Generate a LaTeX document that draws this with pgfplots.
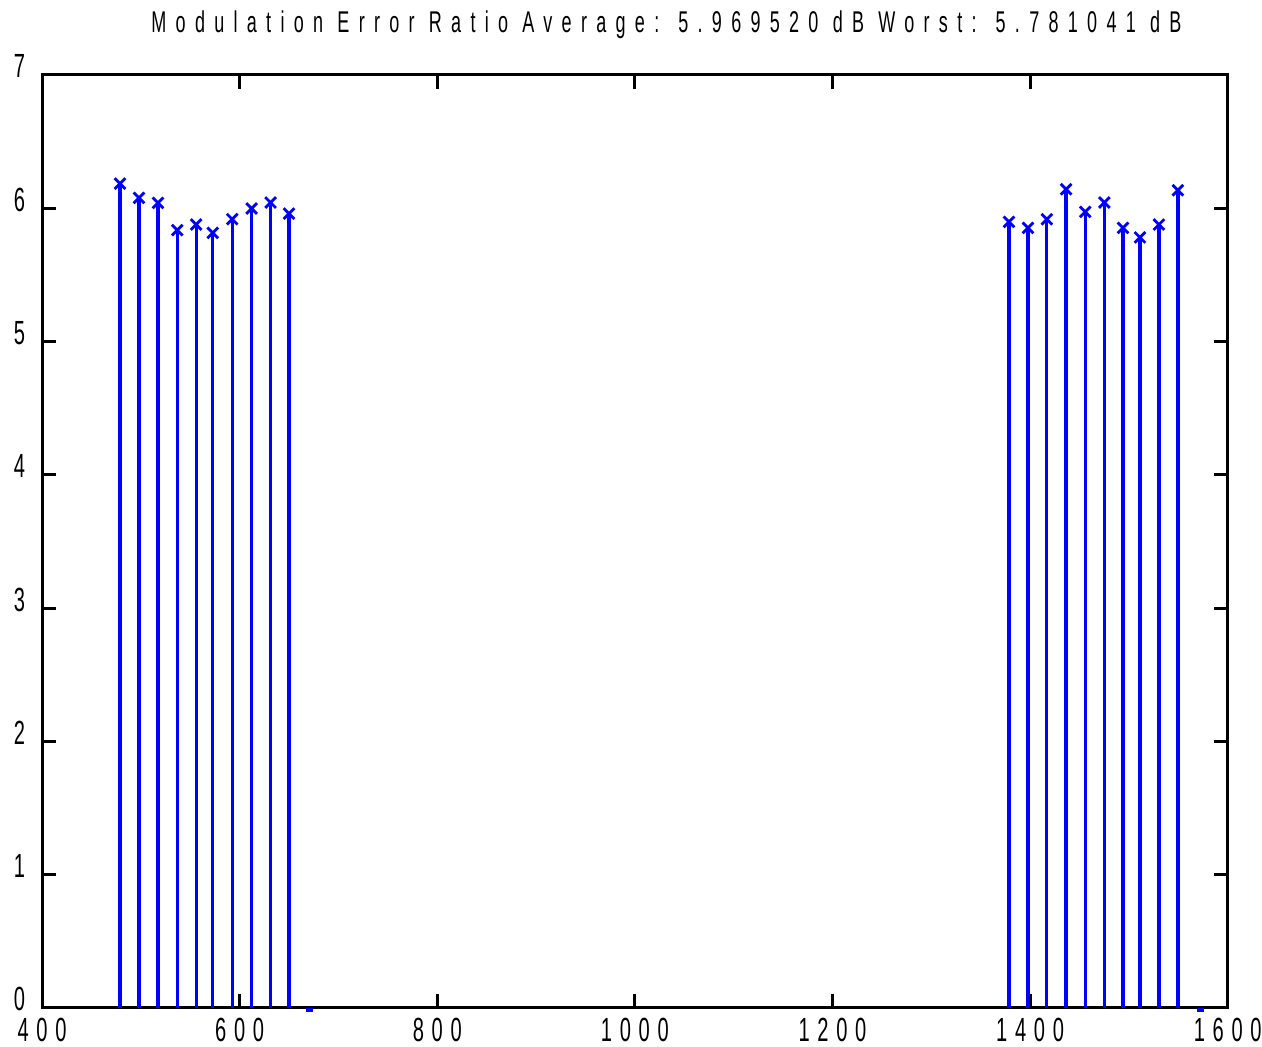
\documentclass[border=0pt]{standalone}
\usepackage{fontspec}
\usepackage{pgfplots}
\pgfplotsset{compat=1.18}
\newfontfamily\tickfont[FakeStretch=0.6, LetterSpace=23]{Liberation Sans}
\newfontfamily\titlefont[FakeStretch=0.6, LetterSpace=31]{Liberation Sans}
\definecolor{mblue}{RGB}{0,0,255}
\begin{document}
\begin{tikzpicture}
\begin{axis}[
  scale only axis,
  width=592.85pt, height=466.5pt,
  xmin=400, xmax=1600, ymin=0, ymax=7,
  xtick={400,600,...,1600}, ytick={0,1,...,7},
  tick align=inside,
  major tick length=7pt,
  axis line style={line width=1.5pt},
  every tick/.style={black, line width=1.5pt},
  /pgf/number format/assume math mode=true,
  /pgf/number format/1000 sep={},
  ticklabel style={font=\tickfont\fontsize{16.75}{17}\selectfont},
  xticklabel style={yshift=-1.5pt},
  yticklabel style={anchor=base east, yshift=-1.5pt, xshift=-5pt},
  title={Modulation Error Ratio Average: 5.969520 dB Worst: 5.781041 dB},
  title style={font=\titlefont\fontsize{15}{16}\selectfont, at={(0.5,1)}, anchor=base, yshift=15pt, xshift=15.8pt},
  clip=false,
]
\addplot[ycomb, mblue, line width=1.6pt, mark=x, mark size=3.8pt, mark options={line width=1.4pt}] coordinates {
(479.0,6.185) (498.2,6.078) (517.4,6.040) (536.8,5.836) (556.0,5.878)
(572.8,5.816) (592.5,5.918) (612.1,5.998) (631.3,6.043) (650.0,5.960)
(1378.6,5.898) (1397.8,5.853) (1417.0,5.918) (1436.4,6.143) (1455.8,5.973)
(1475.2,6.043) (1494.0,5.853) (1511.2,5.781) (1530.4,5.878) (1549.6,6.135)
};
\addplot[only marks, mblue, mark=-, mark size=1.7pt, mark options={line width=1.6pt, yshift=-1pt}] coordinates {
(670.5,0) (1572.5,0)
};
\end{axis}
\pgfresetboundingbox
\path[use as bounding box] ([shift={(-21pt,-19.5pt)}]current axis.south west) rectangle ++(631pt,523.5pt);
\end{tikzpicture}
\end{document}
